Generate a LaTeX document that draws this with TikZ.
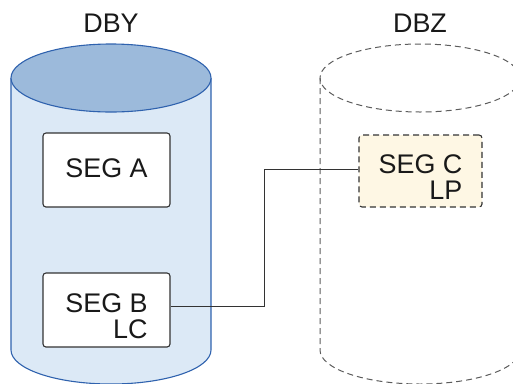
\documentclass[tikz,border=0pt]{standalone}
\usepackage{fontspec}
\setmainfont{Liberation Sans}
\definecolor{cylbody}{HTML}{DCE9F6}
\definecolor{cyltop}{HTML}{9CBADB}
\definecolor{cylline}{HTML}{2F62AE}
\definecolor{cream}{HTML}{FEF7E4}
\definecolor{boxline}{HTML}{333333}
\newcommand{\twoline}[2]{\raisebox{-10bp}[\height][\depth]{\begin{tabular}{@{}r@{}}#1\\#2\end{tabular}}}
\tikzset{
  segbox/.style={draw=boxline, line width=1.1bp, rounded corners=3bp, fill=white,
    minimum width=127bp, minimum height=74bp, inner sep=0pt, align=right,
    font=\fontsize{27}{26.5}\selectfont, text=black!90},
  dbllabel/.style={font=\fontsize{27}{27}\selectfont, inner sep=0pt, text=black!90},
  link/.style={draw=boxline, line width=1bp},
  ghost/.style={draw=boxline!80, line width=1bp, dash pattern=on 6bp off 4bp}
}
\begin{document}
\begin{tikzpicture}[x=1bp,y=-1bp]
\useasboundingbox (0,0) rectangle (513,383);
\begin{scope}
\clip (0,0) rectangle (513,383);
% DBY cylinder
\fill[cylbody] (11,78) -- (11,350) arc[start angle=180,end angle=0,x radius=100,y radius=34] -- (211,78) -- cycle;
\draw[cylline, line width=1.1bp] (11,78) -- (11,350) arc[start angle=180,end angle=0,x radius=100,y radius=34] -- (211,78);
\draw[cylline, line width=1.1bp, fill=cyltop] (111,78) ellipse[x radius=100,y radius=34];
% DBZ cylinder
\draw[ghost] (320,78) -- (320,350) arc[start angle=180,end angle=0,x radius=100,y radius=34] -- (520,78);
\draw[ghost] (420,78) ellipse[x radius=100,y radius=34];
\end{scope}
\node[dbllabel] (dby) at (111,23) {DBY};
\node[dbllabel] (dbz) at (420,23) {DBZ};
\node[segbox] (sega) at (106.5,170) {\raisebox{3bp}{SEG A}};
\node[segbox] (segb) at (106.5,310) {\twoline{SEG B}{LC}};
\node[segbox, fill=cream, minimum width=123bp, minimum height=72bp, draw=boxline, dash pattern=on 6bp off 4bp] (segc) at (420.5,171) {\twoline{SEG C}{LP}};
\coordinate (bout) at ([yshift=4pt]segb.east);
\coordinate (cin) at ([yshift=2pt]segc.west);
\coordinate (bend) at (264,0);
\draw[link] (bout) -- (bend |- bout) -- (bend |- cin) -- (cin);
\end{tikzpicture}
\end{document}
